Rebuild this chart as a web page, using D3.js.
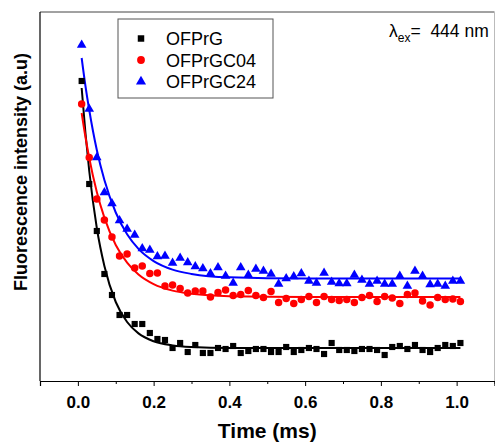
<!DOCTYPE html>
<html>
<head>
<meta charset="utf-8">
<script src="https://cdn.jsdelivr.net/npm/d3@7"></script>
<style>
	body { margin: 0; background: #fff; }
	text { font-family: "Liberation Sans", Arial, sans-serif; }
</style>
</head>
<body>
<div id="chart"></div>
<script>
// time axis of the decay data (ms)
var times = [0.01, 0.03, 0.05, 0.07, 0.09, 0.11, 0.13, 0.15, 0.17, 0.19,
	0.21, 0.23, 0.25, 0.27, 0.29, 0.31, 0.33, 0.35, 0.37, 0.39,
	0.41, 0.43, 0.45, 0.47, 0.49, 0.51, 0.53, 0.55, 0.57, 0.59,
	0.61, 0.63, 0.65, 0.67, 0.69, 0.71, 0.73, 0.75, 0.77, 0.79,
	0.81, 0.83, 0.85, 0.87, 0.89, 0.91, 0.93, 0.95, 0.97, 0.99, 1.01]

var ofprg = [300, 197, 150, 107, 86, 66, 66, 57, 57, 48,
	42, 41, 33, 38, 29, 36, 28, 28, 33, 32,
	35, 28, 30, 32, 32, 29, 29, 34, 29, 31,
	33, 32, 27, 38, 31, 31, 30, 32, 32, 31,
	26, 34, 35, 32, 36, 31, 29, 33, 36, 35, 38]

var ofprgc04 = [277, 223.5, 182, 161, 144, 125, 127, 113, 115, 107.5,
	108, 95, 96, 92.5, 88, 90, 90, 84, 88.5, 91,
	85.5, 86.5, 90.5, 85.5, 83.5, 89.5, 78.5, 82.5, 77.5, 81.5,
	84.5, 78.5, 84.5, 81.5, 80.5, 81.5, 78.5, 83.5, 85.5, 79.5,
	84.5, 83, 77.5, 86.5, 88, 80, 76, 83.5, 81.5, 82, 79.5]

var ofprgc24 = [336, 272, 223.5, 188.5, 177.5, 160.5, 152, 146, 132.5, 131,
	124.5, 125, 118, 123, 118.5, 114.5, 112.5, 107.5, 113.5, 105,
	98, 113.5, 106, 112, 110, 107, 97, 102.5, 104.5, 107.5,
	100, 98, 108, 99, 97.5, 97.5, 106, 101, 97, 100,
	97, 97, 105, 95, 110, 105, 96.5, 97, 95, 100, 100]

// fitted curves
var fitTimes = [0.01, 0.02, 0.03, 0.05, 0.07, 0.10, 0.13, 0.16, 0.20, 0.25, 0.30, 0.40, 0.60, 1.01]
var fitOfprg = [293, 248, 210, 153, 115, 79, 59, 47.6, 39.7, 35.6, 34, 33, 33, 33]
var fitOfprgc04 = [268, 244, 223, 189, 163.4, 136, 118.3, 106.5, 96.9, 90.4, 87.2, 84.8, 84, 84]
var fitOfprgc24 = [323, 295, 271, 231, 201, 168.5, 146.7, 132.1, 119.9, 111.4, 107.1, 103.7, 102.5, 102.5]

var seriesNames = ["OFPrG", "OFPrGC04", "OFPrGC24"]
var majorTicks = [0.0, 0.2, 0.4, 0.6, 0.8, 1.0]
var minorTicks = [-0.1, 0.1, 0.3, 0.5, 0.7, 0.9, 1.1]

var width = 495
var height = 446

var svg = d3.select("#chart")
	.append("svg")
	.attr("width", width)
	.attr("height", height)

var x = d3.scaleLinear().domain([-0.1, 1.1]).range([40, 494.5])
var y = d3.scaleLinear().domain([0, 369]).range([381, 12])

var colors = ["#000000", "#ff0000", "#0000ff"]
var shapes = [d3.symbolSquare, d3.symbolCircle, d3.symbolTriangle]
var sizes = [38, 44, 40]

var series = [
	{ name: seriesNames[0], data: ofprg, fit: fitOfprg },
	{ name: seriesNames[1], data: ofprgc04, fit: fitOfprgc04 },
	{ name: seriesNames[2], data: ofprgc24, fit: fitOfprgc24 }
]

// frame
svg.append("line").attr("x1", x(-0.1)).attr("x2", x(1.1)).attr("y1", y(369)).attr("y2", y(369))
	.style("stroke", "#444").style("stroke-width", 1)
svg.append("line").attr("x1", x(1.1)).attr("x2", x(1.1)).attr("y1", y(369)).attr("y2", y(0))
	.style("stroke", "#bbb").style("stroke-width", 1)
svg.append("line").attr("x1", x(-0.1)).attr("x2", x(-0.1)).attr("y1", y(369)).attr("y2", y(0))
	.style("stroke", "#000").style("stroke-width", 1.2)

// x axis
var xAxis = svg.append("g")
	.attr("transform", "translate(0," + y(0) + ")")
	.call(d3.axisBottom(x).tickValues(majorTicks).tickSize(5).tickPadding(10).tickFormat(d3.format(".1f")))
xAxis.select(".domain").style("stroke-width", 1.2)
xAxis.selectAll("text")
	.style("font-family", '"Liberation Sans", Arial, sans-serif')
	.style("font-size", "17px")
	.style("font-weight", "bold")
	.attr("fill", "#000")

svg.append("g")
	.attr("transform", "translate(0," + y(0) + ")")
	.call(d3.axisBottom(x).tickValues(minorTicks).tickSize(3).tickFormat(""))
	.select(".domain").remove()

// axis titles
svg.append("text")
	.attr("x", (x(-0.1) + x(1.1)) / 2)
	.attr("y", 438)
	.attr("text-anchor", "middle")
	.style("font-size", "21px")
	.style("font-weight", "bold")
	.text("Time (ms)")

svg.append("text")
	.attr("transform", "translate(27," + 172 + ") rotate(-90)")
	.attr("text-anchor", "middle")
	.style("font-size", "18px")
	.style("font-weight", "bold")
	.text("Fluorescence intensity (a.u)")

// fit lines
var fitLine = d3.line()
	.x(function (d) { return x(d[0]); })
	.y(function (d) { return y(d[1]); })
	.curve(d3.curveMonotoneX)

series.forEach(function (s, i) {
	svg.append("path")
		.datum(fitTimes.map(function (t, j) { return [t, s.fit[j]]; }))
		.attr("d", fitLine)
		.style("fill", "none")
		.style("stroke", colors[i])
		.style("stroke-width", 2)
})

// data points
series.forEach(function (s, i) {
	svg.append("g")
		.selectAll("path")
		.data(times.map(function (t, j) { return [t, s.data[j]]; }))
		.enter()
		.append("path")
		.attr("d", d3.symbol().type(shapes[i]).size(sizes[i]))
		.attr("transform", function (d) { return "translate(" + x(d[0]) + "," + y(d[1]) + ")"; })
		.style("fill", colors[i])
})

// legend
var legend = svg.append("g").attr("transform", "translate(118,19)")
legend.append("rect")
	.attr("width", 155)
	.attr("height", 79)
	.style("fill", "#fff")
	.style("stroke", "#555")
	.style("stroke-width", 1)

seriesNames.forEach(function (name, i) {
	legend.append("path")
		.attr("d", d3.symbol().type(shapes[i]).size(sizes[i] + 4))
		.attr("transform", "translate(23," + (19.5 + i * 21.5) + ")")
		.style("fill", colors[i])
	legend.append("text")
		.attr("x", 48)
		.attr("y", 19.5 + i * 21.5 + 6.5)
		.style("font-size", "18px")
		.text(name)
})

// excitation wavelength note
var note = svg.append("text")
	.attr("x", 389)
	.attr("y", 37)
	.style("font-size", "17.5px")
	.attr("xml:space", "preserve")
note.append("tspan").text("\u03bb")
note.append("tspan").attr("dy", 5).style("font-size", "12px").text("ex")
note.append("tspan").attr("dy", -5).text("=\u00a0 444 nm")
</script>
</body>
</html>
